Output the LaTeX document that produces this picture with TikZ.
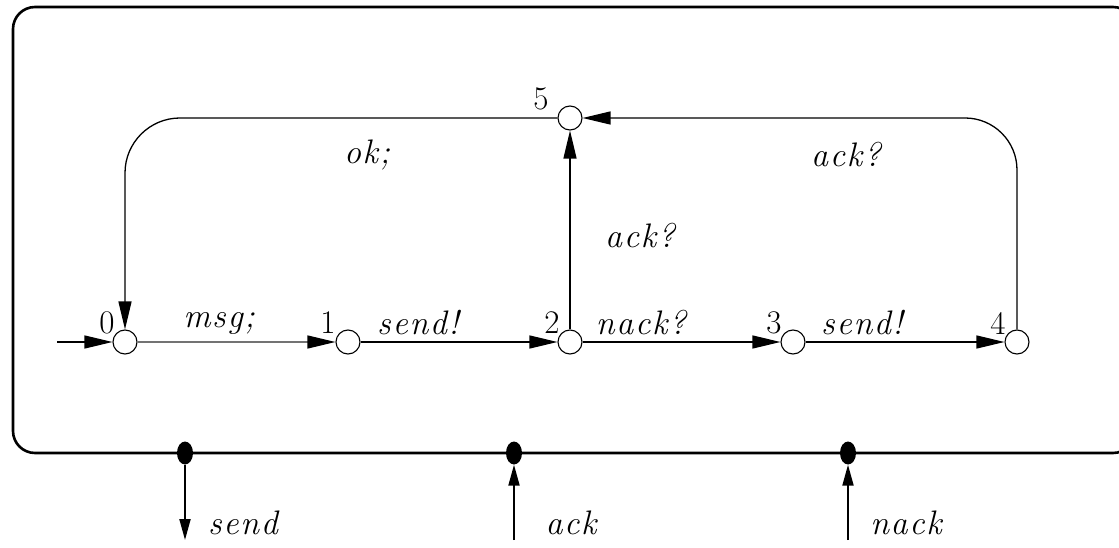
\documentclass[tikz,border=0pt]{standalone}
\usepackage{fontspec}
\setmainfont{Latin Modern Roman}
\usetikzlibrary{arrows.meta,shapes.geometric}
\begin{document}
\begin{tikzpicture}[x=1pt,y=1pt,
  state/.style={circle,draw,minimum size=24pt,inner sep=0pt,line width=1.1pt},
  trans/.style={line width=1.3pt,-{Triangle[length=28pt,width=13pt,black]}},
  port/.style={ellipse,fill=black,minimum width=16pt,minimum height=23pt,inner sep=0pt},
  parr/.style={line width=2pt,-{Triangle[length=21pt,width=11pt]}},
  lbl/.style={font=\fontsize{34}{38}\selectfont\itshape\addfontfeatures{LetterSpace=5}},
  num/.style={font=\fontsize{33}{36}\selectfont}]
\useasboundingbox (0,0) rectangle (1119,547);
\clip (0,0) rectangle (1119,547);
\draw[line width=2.6pt,rounded corners=22pt] (13,540) rectangle (1135,94);
\node[state] (s0) at (125,205) {};
\node[state] (s1) at (348,205) {};
\node[state] (s2) at (570,205) {};
\node[state] (s3) at (793,205) {};
\node[state] (s4) at (1017,205) {};
\node[state] (s5) at (570,429) {};
\node[num] (n0) at (107,224) {0};
\node[num] (n1) at (328,224) {1};
\node[num] (n2) at (552,224) {2};
\node[num] (n3) at (774,224) {3};
\node[num] (n4) at (998,224) {4};
\node[num] (n5) at (541,448) {5};
\coordinate (init) at (57,205);
\draw[trans] (init) -- (s0);
\draw[trans,draw=black!55] (s0) -- (s1);
\draw[trans] (s1) -- (s2);
\draw[trans] (s2) -- (s3);
\draw[trans] (s3) -- (s4);
\draw[trans] (s2) -- (s5);
\draw[trans,rounded corners=52pt] (s4.north) |- (s5);
\draw[trans,rounded corners=55pt] (s5) -| (s0.north);
\node[lbl] (l01) at (219,224) {msg;};
\node[lbl] (l12) at (418,224) {send!};
\node[lbl] (l23) at (641,224) {nack?};
\node[lbl] (l34) at (862,224) {send!};
\node[lbl] (l25) at (640,311) {ack?};
\node[lbl] (l45) at (846,392) {ack?};
\node[lbl] (l50) at (367,392) {ok;};
\node[port] (p1) at (185,94) {};
\node[port] (p2) at (514,94) {};
\node[port] (p3) at (848,94) {};
\coordinate (e1) at (185,7);
\coordinate (e2) at (514,7);
\coordinate (e3) at (848,7);
\draw[parr] (p1) -- (e1);
\draw[parr] (e2) -- (p2);
\draw[parr] (e3) -- (p3);
\node[lbl] (t1) at (243,24) {send};
\node[lbl] (t2) at (571,24) {ack};
\node[lbl] (t3) at (906,24) {nack};
\end{tikzpicture}
\end{document}
